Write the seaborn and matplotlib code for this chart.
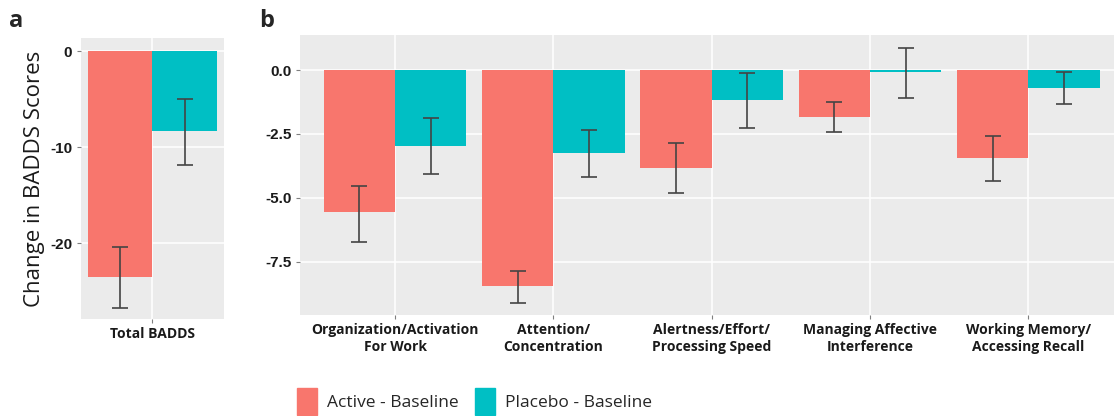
import matplotlib
matplotlib.use("Agg")
import matplotlib.pyplot as plt
import pandas as pd
import seaborn as sns

# data
groups = ['Active - Baseline', 'Placebo - Baseline']
colors = ['#F8766D', '#00BFC4']

total_label = ['Total BADDS']
total_mean = {'Active - Baseline': [-23.5], 'Placebo - Baseline': [-8.3]}
total_lo = {'Active - Baseline': [-26.7], 'Placebo - Baseline': [-11.8]}
total_hi = {'Active - Baseline': [-20.4], 'Placebo - Baseline': [-5.0]}

domains = ['Organization/Activation\nFor Work', 'Attention/\nConcentration',
           'Alertness/Effort/\nProcessing Speed', 'Managing Affective\nInterference',
           'Working Memory/\nAccessing Recall']
domain_mean = {'Active - Baseline': [-5.57, -8.46, -3.82, -1.82, -3.45],
               'Placebo - Baseline': [-2.97, -3.25, -1.17, -0.07, -0.69]}
domain_lo = {'Active - Baseline': [-6.72, -9.11, -4.82, -2.41, -4.34],
             'Placebo - Baseline': [-4.05, -4.17, -2.28, -1.10, -1.33]}
domain_hi = {'Active - Baseline': [-4.53, -7.85, -2.84, -1.26, -2.60],
             'Placebo - Baseline': [-1.89, -2.34, -0.10, 0.85, -0.07]}

sns.set_theme(style="darkgrid", rc={
    'axes.facecolor': '#EBEBEB', 'grid.color': 'white', 'grid.linewidth': 1.1,
    'axes.unicode_minus': False, 'xtick.bottom': True, 'ytick.left': True,
    'xtick.color': '#7f7f7f', 'ytick.color': '#7f7f7f',
})
plt.rcParams['font.family'] = ['Open Sans', 'DejaVu Sans']


def make_frame(labels, mean, lo, hi):
    rows = []
    for g in groups:
        for i, lab in enumerate(labels):
            rows.append({'item': lab, 'group': g, 'value': mean[g][i], 'lo': lo[g][i], 'hi': hi[g][i]})
    return pd.DataFrame(rows)


def draw(ax, df, labels):
    sns.barplot(data=df, x='item', y='value', hue='group', order=labels, hue_order=groups,
                palette=colors, width=0.9, errorbar=None, saturation=1, legend=False,
                linewidth=0, ax=ax)
    for g, bars in zip(groups, ax.containers):
        sub = df[df['group'] == g].set_index('item').loc[labels]
        for bar, (_, r) in zip(bars, sub.iterrows()):
            xc = bar.get_x() + bar.get_width() / 2
            ax.errorbar(xc, r['value'], yerr=[[r['value'] - r['lo']], [r['hi'] - r['value']]],
                        fmt='none', ecolor='#444444', elinewidth=1.2, capsize=6, capthick=1.2)
    ax.set_xlabel('')
    ax.set_ylabel('')
    ax.xaxis.grid(True)
    ax.set_axisbelow(True)
    for s in ax.spines.values():
        s.set_visible(False)
    ax.tick_params(axis='both', length=3, width=0.8, pad=3)


fig = plt.figure(figsize=(11.14, 4.16), dpi=100)
ax_a = fig.add_axes([0.0724, 0.233, 0.1287, 0.675])
ax_b = fig.add_axes([0.2693, 0.2428, 0.7307, 0.6719])

df_a = make_frame(total_label, total_mean, total_lo, total_hi)
draw(ax_a, df_a, total_label)
ax_a.set_xlim(-0.5, 0.5)
ax_a.set_ylim(-27.9, 1.35)
ax_a.set_yticks([0, -10, -20])
ax_a.set_yticklabels(['0', '-10', '-20'], fontsize=11, fontweight='bold', color='#1a1a1a',
                     family=['Liberation Sans', 'DejaVu Sans'])
ax_a.set_xticks(ax_a.get_xticks())
ax_a.set_xticklabels(total_label, fontsize=10, fontweight='bold', color='#1a1a1a')
ax_a.set_ylabel('Change in BADDS Scores', fontsize=16, color='#1a1a1a', labelpad=4)

df_b = make_frame(domains, domain_mean, domain_lo, domain_hi)
draw(ax_b, df_b, domains)
ax_b.set_xlim(-0.6, 4.54)
ax_b.set_ylim(-9.58, 1.35)
ax_b.set_yticks([0, -2.5, -5.0, -7.5])
ax_b.set_yticklabels(['0.0', '-2.5', '-5.0', '-7.5'], fontsize=11, fontweight='bold', color='#1a1a1a',
                     family=['Liberation Sans', 'DejaVu Sans'])
ax_b.set_xticks(ax_b.get_xticks())
ax_b.set_xticklabels(domains, fontsize=10, fontweight='bold', color='#1a1a1a', linespacing=1.25)

fig.text(0.008, 0.935, 'a', fontsize=17, fontweight='bold')
fig.text(0.233, 0.935, 'b', fontsize=17, fontweight='bold')

handles = [plt.Rectangle((0, 0), 1, 1, color=c) for c in colors]
fig.legend(handles, groups, loc='lower left', bbox_to_anchor=(0.2666, 0.003), ncol=2,
           frameon=False, fontsize=12.5, handlelength=1.15, handleheight=2.0, handletextpad=0.55,
           columnspacing=1.0, borderpad=0, borderaxespad=0)

fig.savefig('out.png', dpi=100)
